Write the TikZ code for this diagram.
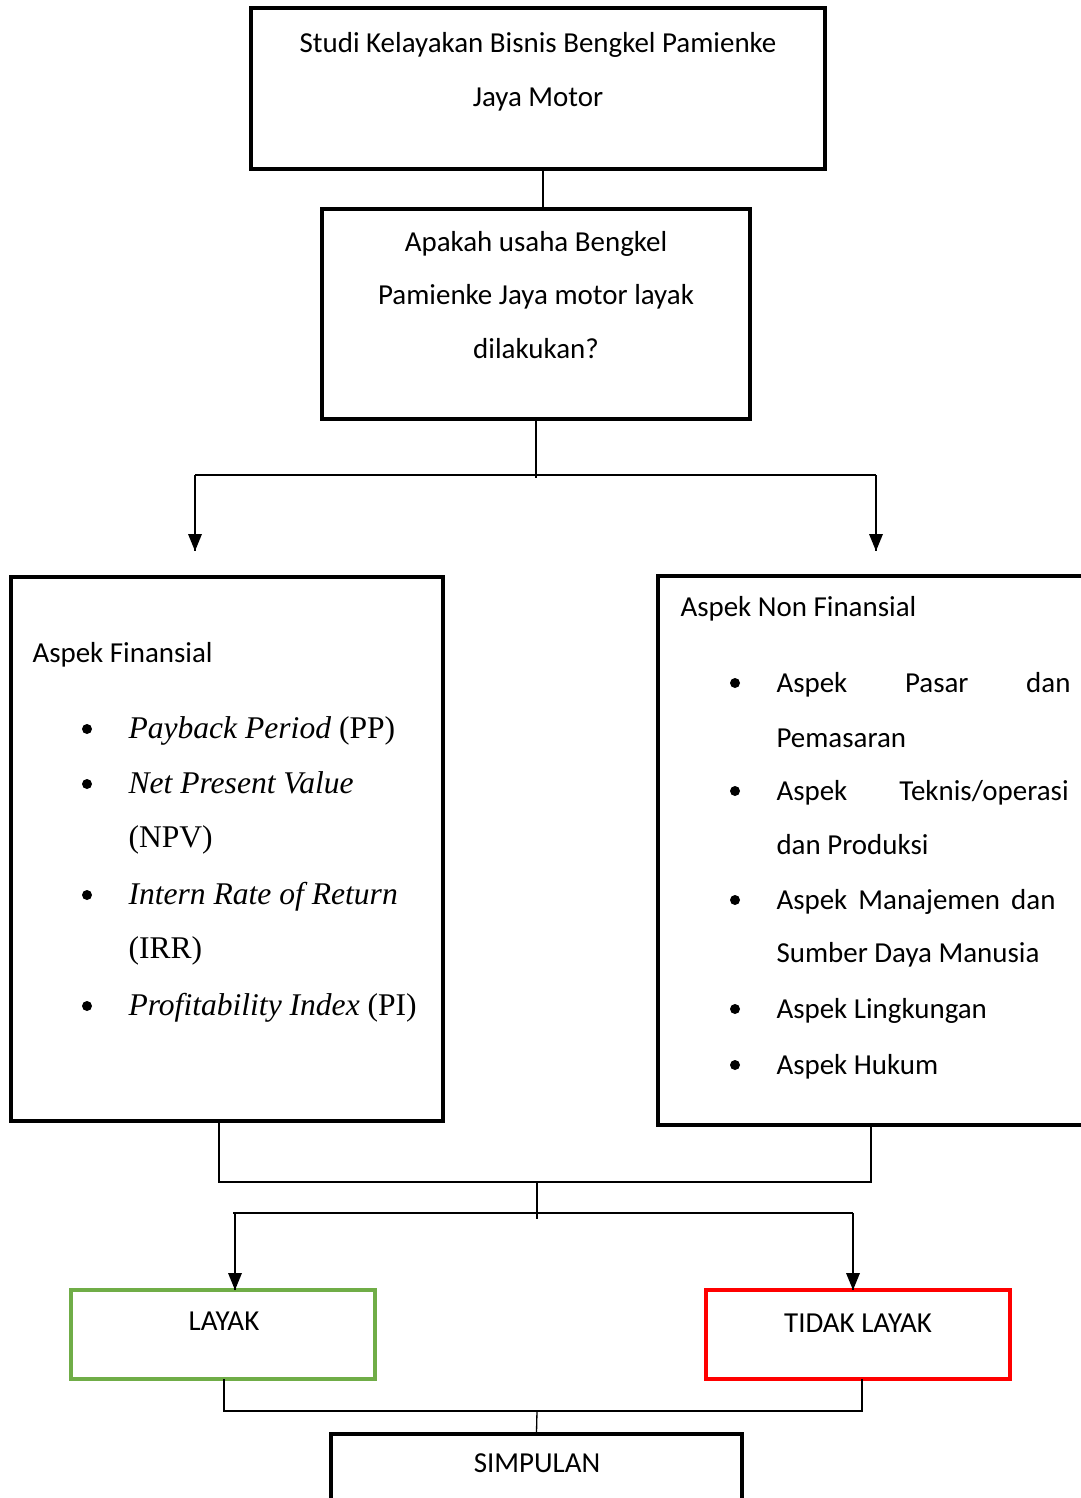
\documentclass[tikz,border=0pt]{standalone}
\usepackage{fontspec}
\setmainfont{Carlito}
\newfontfamily\timesfont{Liberation Serif}

\begin{document}
\begin{tikzpicture}[x=0.38pt,y=-0.38pt]
    \tikzstyle{every node}+=[inner sep=0pt]
    \tikzstyle{box}=[draw, line width=1.2pt]
    \tikzstyle{link}=[line width=0.5pt]
    \tikzstyle{dot}=[circle, fill, minimum size=3.8pt]
    \tikzstyle{txt}=[anchor=base, font=\fontsize{11}{13}\selectfont]
    \tikzstyle{txtw}=[anchor=base west, font=\fontsize{11}{13}\selectfont]
    \tikzstyle{tnr}=[anchor=base west, font=\timesfont\fontsize{12}{14}\selectfont]
    \useasboundingbox (0,0) rectangle (1081,1498);
    % boxes
    \node [box, minimum width=574*0.38pt, minimum height=161*0.38pt] (judul) at (538,88.5) {};
    \node [box, minimum width=428*0.38pt, minimum height=210*0.38pt] (tanya) at (536,314) {};
    \node [box, minimum width=432*0.38pt, minimum height=544*0.38pt] (fin) at (227,849) {};
    \node [box, minimum width=432*0.38pt, minimum height=549*0.38pt] (nonfin) at (874,850.5) {};
    \node [box, draw={rgb,255:red,112;green,173;blue,71}, minimum width=304*0.38pt, minimum height=89*0.38pt] (layak) at (223,1334.5) {};
    \node [box, draw=red, minimum width=304*0.38pt, minimum height=89*0.38pt] (tidak) at (858,1334.5) {};
    \node [box, minimum width=411*0.38pt, minimum height=90*0.38pt] (simpul) at (536.5,1479) {};
    % texts
    \draw (538,53) node [txt] (judul1) {Studi Kelayakan Bisnis Bengkel Pamienke};
    \draw (538,106) node [txt] (judul2) {Jaya Motor};
    \draw (536,251) node [txt] (tanya1) {Apakah usaha Bengkel};
    \draw (536,304) node [txt] (tanya2) {Pamienke Jaya motor layak};
    \draw (536,358) node [txt] (tanya3) {dilakukan?};
    \draw (32,662) node [txtw] (finjudul) {Aspek Finansial};
    \draw (87,729) node [dot] (b1) {};
    \draw (128,738) node [tnr] (f1) {\textit{Payback Period} (PP)};
    \draw (87,784) node [dot] (b2) {};
    \draw (128,793) node [tnr] (f2) {\textit{Net Present Value}};
    \draw (128,847) node [tnr] (f2b) {(NPV)};
    \draw (87,895) node [dot] (b3) {};
    \draw (128,904) node [tnr] (f3) {\textit{Intern Rate of Return}};
    \draw (128,958) node [tnr] (f3b) {(IRR)};
    \draw (87,1006) node [dot] (b4) {};
    \draw (128,1015) node [tnr] (f4) {\textit{Profitability Index} (PI)};
    \draw (680,616) node [txtw] (nfjudul) {Aspek Non Finansial};
    \draw (735,683) node [dot] (c1) {};
    \draw (776,692) node [txtw] (n1) {\makebox[111.7pt][s]{Aspek Pasar dan}};
    \draw (776,747) node [txtw] (n1b) {Pemasaran};
    \draw (735,791) node [dot] (c2) {};
    \draw (776,800) node [txtw] (n2) {\makebox[111pt][s]{Aspek Teknis/operasi}};
    \draw (776,854) node [txtw] (n2b) {dan Produksi};
    \draw (735,900) node [dot] (c3) {};
    \draw (776,909) node [txtw] (n3) {\makebox[106pt][s]{Aspek Manajemen dan}};
    \draw (776,962) node [txtw] (n3b) {Sumber Daya Manusia};
    \draw (735,1009) node [dot] (c4) {};
    \draw (776,1018) node [txtw] (n4) {Aspek Lingkungan};
    \draw (735,1065) node [dot] (c5) {};
    \draw (776,1074) node [txtw] (n5) {Aspek Hukum};
    \draw (224,1330) node [txt] (layaktxt) {LAYAK};
    \draw (858,1332) node [txt] (tidaktxt) {TIDAK LAYAK};
    \draw (537,1472) node [txt] (simpultxt) {SIMPULAN};
    % junction points
    \coordinate (p1) at (543,169);
    \coordinate (p2) at (543,209);
    \coordinate (q1) at (536,478);
    \coordinate (q2) at (195,475);
    \coordinate (q3) at (876,475);
    \coordinate (q4) at (195,551);
    \coordinate (q5) at (876,551);
    \coordinate (r1) at (219,1121);
    \coordinate (r2) at (219,1182);
    \coordinate (r3) at (871,1125);
    \coordinate (r4) at (871,1182);
    \coordinate (r5) at (537,1182);
    \coordinate (r6) at (537,1219);
    \coordinate (r7) at (233,1213);
    \coordinate (r8) at (853,1213);
    \coordinate (r9) at (235,1290);
    \coordinate (r10) at (853,1290);
    \coordinate (s1) at (224,1379);
    \coordinate (s2) at (224,1411);
    \coordinate (s3) at (862,1379);
    \coordinate (s4) at (862,1411);
    \coordinate (s5) at (537,1411);
    % connectors
    \draw [link] (p1) -- (p2);
    \draw [link] (tanya.south) -- (q1);
    \draw [link] (q2) -- (q3);
    \draw [link] (q2) -- (q4);
    \fill [black] (q4) -- ++(-7,-17) -- ++(14,0) -- cycle;
    \draw [link] (q3) -- (q5);
    \fill [black] (q5) -- ++(-7,-17) -- ++(14,0) -- cycle;
    \draw [link] (r1) -- (r2) -- (r4) -- (r3);
    \draw [link] (r5) -- (r6);
    \draw [link] (r7) -- (r8);
    \draw [link] (235,1213) -- (r9);
    \fill [black] (r9) -- ++(-7,-17) -- ++(14,0) -- cycle;
    \draw [link] (r8) -- (r10);
    \fill [black] (r10) -- ++(-7,-17) -- ++(14,0) -- cycle;
    \draw [link] (s1) -- (s2) -- (s4) -- (s3);
    \draw [link] (s5) -- (simpul.north);
\end{tikzpicture}
\end{document}
